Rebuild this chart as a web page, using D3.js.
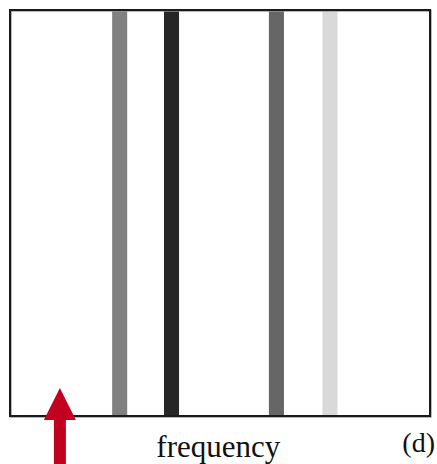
<!DOCTYPE html>
<html>
<head>
<meta charset="utf-8">
<script src="https://cdn.jsdelivr.net/npm/d3@7"></script>
<style>
  body { margin: 0; background: #fff; }
  svg { display: block; }
</style>
</head>
<body>
<div id="chart"></div>
<script>
// spectral lines (frequency position) and their grey level
const lineFreqs  = [2.6, 3.84, 6.35, 7.63]
const lineShades = ["#808080", "#262626", "#666666", "#d9d9d9"]
const lineWidth  = 0.36          // in frequency units
const arrowFreq  = 1.17
const xLabel     = "frequency"
const panelTag   = "(d)"

const width = 437, height = 464
const box = { left: 10, right: 430, top: 10, bottom: 416 }

const svg = d3.select("#chart")
  .append("svg")
  .attr("width", width)
  .attr("height", height)

const xScale = d3.scaleLinear()
  .domain([0, 10])
  .range([box.left + 1, box.right - 1])

// bars
svg.selectAll(".line")
  .data(lineFreqs)
  .enter().append("rect")
  .attr("class", "line")
  .attr("x", d => xScale(d - lineWidth / 2))
  .attr("width", xScale(lineWidth) - xScale(0))
  .attr("y", box.top + 1)
  .attr("height", box.bottom - box.top - 2)
  .attr("fill", (d, i) => lineShades[i])

// frame, with a faint shadow like the scanned figure
svg.append("rect")
  .attr("x", box.left + 0.7)
  .attr("y", box.top + 0.7)
  .attr("width", box.right - box.left)
  .attr("height", box.bottom - box.top)
  .attr("fill", "none")
  .attr("stroke", "#999")
  .attr("stroke-width", 2)
svg.append("rect")
  .attr("x", box.left)
  .attr("y", box.top)
  .attr("width", box.right - box.left)
  .attr("height", box.bottom - box.top)
  .attr("fill", "none")
  .attr("stroke", "#1a1a1a")
  .attr("stroke-width", 2)

// red arrow pointing up at the axis
const ax = xScale(arrowFreq)
const arrow = svg.append("g").attr("fill", "#c2001f")
arrow.append("rect")
  .attr("x", ax - 6)
  .attr("y", 418)
  .attr("width", 12)
  .attr("height", height - 418)
arrow.append("path")
  .attr("d", d3.line()([[ax, 388], [ax - 16, 420], [ax + 16, 420]]) + "Z")

// texts
svg.append("text")
  .attr("x", xScale(4.96))
  .attr("y", 457)
  .attr("text-anchor", "middle")
  .style("font-family", "'Liberation Serif', 'Times New Roman', serif")
  .style("font-size", "31px")
  .attr("fill", "#111")
  .text(xLabel)

svg.append("text")
  .attr("x", 435)
  .attr("y", 452)
  .attr("text-anchor", "end")
  .style("font-family", "'Liberation Serif', 'Times New Roman', serif")
  .style("font-size", "28px")
  .attr("fill", "#111")
  .text(panelTag)
</script>
</body>
</html>
